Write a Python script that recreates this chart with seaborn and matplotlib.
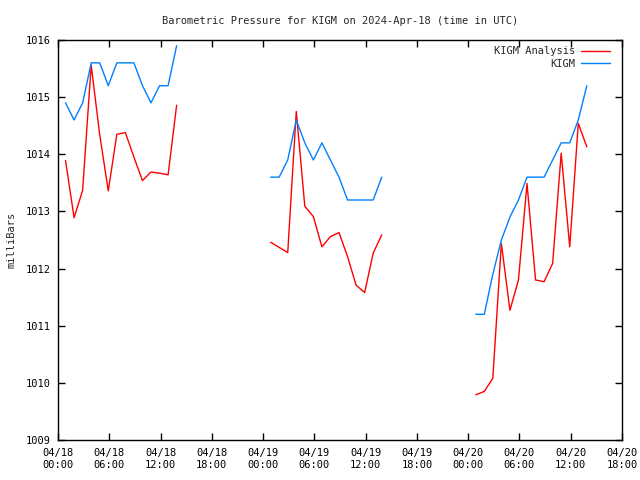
"""
plot.py

Barometric pressure at KIGM, analysis vs. station reports, 18-20 April 2024.
Output: out.png
"""

import pandas as pd
import matplotlib
matplotlib.use("Agg")
import matplotlib.pyplot as plt
import matplotlib.dates as mdates
import seaborn as sns


# Data
# Reports come in just before the hour (xx:53 UTC)

hours = [0, 1, 2, 3, 4, 5, 6, 7, 8, 9, 10, 11, 12, 13,
         24, 25, 26, 27, 28, 29, 30, 31, 32, 33, 34, 35, 36, 37,
         48, 49, 50, 51, 52, 53, 54, 55, 56, 57, 58, 59, 60, 61]
report_minute = 53

analysis_mb = [1013.89, 1012.89, 1013.37, 1015.56, 1014.34, 1013.36, 1014.35,
               1014.38, 1013.95, 1013.54, 1013.69, 1013.67, 1013.64, 1014.86,
               1012.46, 1012.37, 1012.28, 1014.75, 1013.09, 1012.91, 1012.38,
               1012.56, 1012.63, 1012.21, 1011.71, 1011.58, 1012.27, 1012.59,
               1009.79, 1009.85, 1010.08, 1012.44, 1011.27, 1011.80, 1013.49,
               1011.80, 1011.77, 1012.09, 1014.02, 1012.38, 1014.54, 1014.13]

kigm_mb = [1014.9, 1014.6, 1014.9, 1015.6, 1015.6, 1015.2, 1015.6,
           1015.6, 1015.6, 1015.2, 1014.9, 1015.2, 1015.2, 1015.9,
           1013.6, 1013.6, 1013.9, 1014.6, 1014.2, 1013.9, 1014.2,
           1013.9, 1013.6, 1013.2, 1013.2, 1013.2, 1013.2, 1013.6,
           1011.2, 1011.2, 1011.9, 1012.5, 1012.9, 1013.2, 1013.6,
           1013.6, 1013.6, 1013.9, 1014.2, 1014.2, 1014.6, 1015.2]

series_names = ["KIGM Analysis", "KIGM"]
series_colors = {"KIGM Analysis": "#ff0000", "KIGM": "#0080ff"}

start_time = pd.Timestamp("2024-04-18 00:00")
end_time = pd.Timestamp("2024-04-20 18:00")


# Build a long table; a new segment starts wherever hours are missing

base = pd.DataFrame({"hour": hours})
base["time"] = (start_time
                + pd.to_timedelta(base["hour"], unit="h")
                + pd.Timedelta(minutes=report_minute))
base["segment"] = (base["hour"].diff() > 1).cumsum()

df = pd.concat([
    base.assign(series="KIGM Analysis", pressure=analysis_mb),
    base.assign(series="KIGM", pressure=kigm_mb),
], ignore_index=True)


# Style

sns.set_style("ticks")
plt.rcParams["font.family"] = ["DejaVu Sans Mono"]
plt.rcParams["font.size"] = 7.5

fig = plt.figure(figsize=(6.4, 4.8), dpi=100)
ax = fig.add_axes([58 / 640, 40 / 480, 564 / 640, 400 / 480])

sns.lineplot(
    data=df,
    x="time",
    y="pressure",
    hue="series",
    hue_order=series_names,
    palette=series_colors,
    units="segment",
    estimator=None,
    linewidth=1.0,
    ax=ax
)

ax.set_xlim(start_time, end_time)
ax.set_ylim(1009, 1016)
ax.set_yticks(range(1009, 1017))

ax.xaxis.set_major_locator(mdates.HourLocator(byhour=[0, 6, 12, 18]))
ax.xaxis.set_major_formatter(mdates.DateFormatter("%m/%d\n%H:%M"))

ax.tick_params(direction="in", top=True, right=True, length=5, width=1,
               colors="black", labelsize=7.5)
ax.tick_params(axis="x", pad=6)
ax.tick_params(axis="y", pad=5)
for spine in ax.spines.values():
    spine.set_visible(True)
    spine.set_linewidth(1)
    spine.set_color("black")

ax.set_title("Barometric Pressure for KIGM on 2024-Apr-18 (time in UTC)",
             fontsize=7.5, pad=11.5)
ax.set_xlabel("")
ax.set_ylabel("milliBars", fontsize=7.5)
ax.yaxis.set_label_coords(-0.073, 0.5)

handles, labels = ax.get_legend_handles_labels()
ax.legend(handles, labels, loc="upper right", bbox_to_anchor=(0.989, 1.0),
          frameon=False, markerfirst=False, handlelength=2.7,
          handletextpad=0.6, labelspacing=0.25, borderaxespad=0.3,
          borderpad=0.3, fontsize=7.5)

fig.savefig("out.png", dpi=100)
plt.close(fig)
